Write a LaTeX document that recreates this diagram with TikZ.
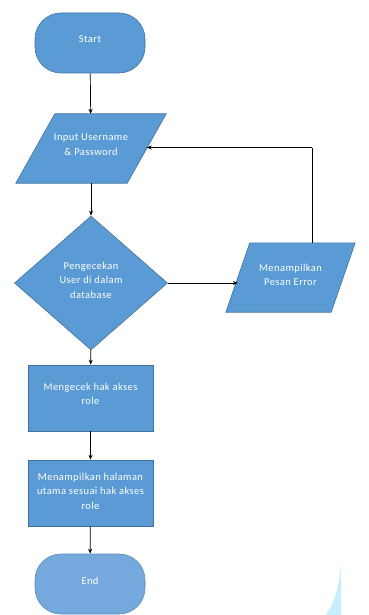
\documentclass[tikz,border=0pt]{standalone}
\usepackage{fontspec}
\setmainfont{Carlito}[LetterSpace=4]
\usetikzlibrary{shapes.geometric,arrows.meta,backgrounds}
\definecolor{boxblue}{HTML}{5B9BD5}
\definecolor{boxedge}{HTML}{41719C}
\definecolor{endblue}{HTML}{75A8DC}
\definecolor{endedge}{HTML}{5A8CC0}
\definecolor{sliver}{HTML}{C8EEFB}
\tikzset{
  txt/.style={text=white, align=center, font=\fontsize{10.5}{14.5}\selectfont, inner sep=0pt},
  base/.style={fill=boxblue, draw=boxedge, line width=0.6pt, inner sep=0pt},
  term/.style={base, rounded corners=26pt, minimum width=110pt, minimum height=60pt},
  ioanchor/.style={inner sep=0pt, minimum height=69pt},
  iofill/.style={fill=boxblue, draw=boxedge, line width=0.6pt},
  decision/.style={base, diamond, minimum width=153pt, minimum height=134pt},
  process/.style={base, rectangle, minimum width=125pt, minimum height=66pt},
  conn/.style={draw=black, line width=0.7pt, -{Stealth[length=5pt,width=4pt]}}
}
\begin{document}
\begin{tikzpicture}[x=1pt,y=-1pt]
\useasboundingbox (0,0) rectangle (368,615);
% nodes (text placed as centred labels, raised slightly as in the reference)
\node[term, label={[txt,yshift=4pt]center:Start}] (start) at (90,43) {};
\node[ioanchor, minimum width=111pt, label={[txt,yshift=4pt]center:Input Username\\\& Password}] (input) at (91,148.5) {};
\node[decision, label={[txt,yshift=3pt]center:Pengecekan\\User di dalam\\database}] (check) at (91,283) {};
\node[ioanchor, minimum width=105pt, label={[txt,yshift=2.5pt]center:Menampilkan\\Pesan Error}] (error) at (290.5,277.5) {};
\node[process, label={[txt,yshift=4pt]center:Mengecek hak akses\\role}] (role) at (90.5,398) {};
\node[process, label={[txt,yshift=2pt]center:Menampilkan halaman\\utama sesuai hak akses\\role}] (home) at (90.5,493) {};
\node[term, fill=endblue, draw=endedge, label={[txt,yshift=3pt]center:End}] (end) at (90,584) {};
% parallelogram bodies behind their labels
\begin{scope}[on background layer]
\fill[sliver] (341,563) .. controls (339,590) and (334,602) .. (326,615) -- (341,615) -- cycle;
\draw[iofill] ([xshift=19.5pt]input.north west) -- ([xshift=19.5pt]input.north east)
  -- ([xshift=-19.5pt]input.south east) -- ([xshift=-19.5pt]input.south west) -- cycle;
\draw[iofill] ([xshift=12pt]error.north west) -- ([xshift=12pt]error.north east)
  -- ([xshift=-12pt]error.south east) -- ([xshift=-12pt]error.south west) -- cycle;
\end{scope}
\coordinate (errtop) at (312,243);
\coordinate (corner) at (312,147.5);
\draw[conn] (start) -- (input);
\draw[conn] (input) -- (check);
\draw[conn] (check.east) -- (check.east -| error.west);
\draw[line width=0.7pt] (errtop) -- (corner);
\draw[conn] (corner) -- (input.east |- corner);
\draw[conn] (check) -- (role);
\draw[conn] (role) -- (home);
\draw[conn] (home) -- (end);
\end{tikzpicture}
\end{document}
